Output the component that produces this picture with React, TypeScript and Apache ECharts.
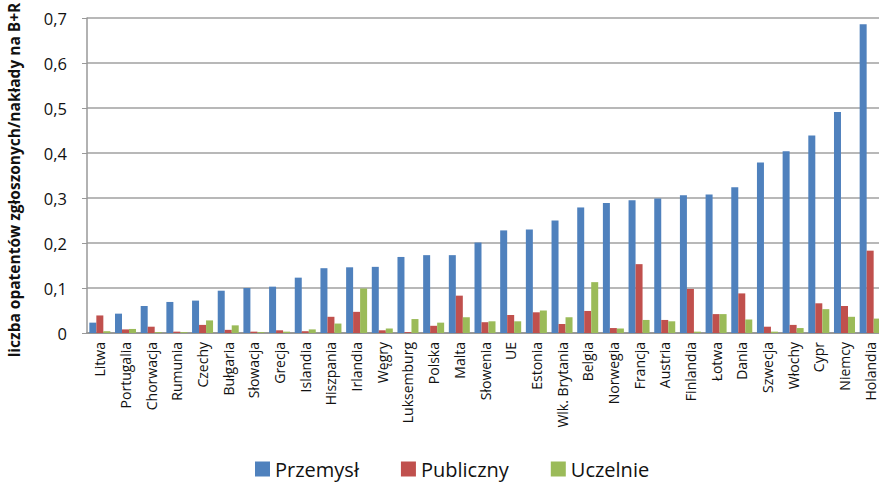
import React, { useEffect, useRef } from "react";
import * as echarts from "echarts";

const categories = [
  "Litwa", "Portugalia", "Chorwacja", "Rumunia", "Czechy", "Bułgaria", "Słowacja", "Grecja",
  "Islandia", "Hiszpania", "Irlandia", "Węgry", "Luksemburg", "Polska", "Malta", "Słowenia",
  "UE", "Estonia", "Wlk. Brytania", "Belgia", "Norwegia", "Francja", "Austria", "Finlandia",
  "Łotwa", "Dania", "Szwecja", "Włochy", "Cypr", "Niemcy", "Holandia",
];

const przemysl = [
  0.023, 0.043, 0.06, 0.069, 0.072, 0.094, 0.1, 0.103, 0.123, 0.144, 0.146, 0.147, 0.169, 0.173,
  0.173, 0.201, 0.228, 0.23, 0.25, 0.279, 0.289, 0.295, 0.299, 0.306, 0.308, 0.324, 0.379, 0.404,
  0.439, 0.491, 0.686,
];

const publiczny = [
  0.039, 0.008, 0.014, 0.003, 0.018, 0.007, 0.003, 0.006, 0.004, 0.036, 0.047, 0.006, 0.002, 0.016,
  0.083, 0.024, 0.04, 0.046, 0.02, 0.049, 0.011, 0.153, 0.029, 0.098, 0.042, 0.088, 0.014, 0.018,
  0.066, 0.06, 0.183,
];

const uczelnie = [
  0.004, 0.009, 0.002, 0.002, 0.028, 0.017, 0.002, 0.003, 0.008, 0.021, 0.099, 0.01, 0.031, 0.023,
  0.035, 0.026, 0.026, 0.05, 0.035, 0.113, 0.01, 0.029, 0.026, 0.003, 0.042, 0.03, 0.003, 0.011,
  0.053, 0.036, 0.032,
];

const seriesNames = ["Przemysł", "Publiczny", "Uczelnie"];
const colors = ["#4F81BD", "#C0504D", "#9BBB59"];
const yAxisTitle = "liczba opatentów zgłoszonych/nakłady na B+R";

export default function App() {
  const ref = useRef<HTMLDivElement>(null);
  useEffect(() => {
    if (!ref.current) return;
    const chart = echarts.init(ref.current, null, { renderer: "svg" });
    const font = "'Open Sans', 'DejaVu Sans', sans-serif";
    const mk = (name: string, data: number[], color: string) => ({
      name,
      type: "bar",
      data,
      barWidth: 7,
      barGap: "0%",
      itemStyle: { color },
    });
    chart.setOption({
      animation: false,
      color: colors,
      textStyle: { fontFamily: font },
      grid: {
        left: 87,
        top: 18,
        width: 796,
        height: 315,
        containLabel: false,
        outerBoundsMode: "none",
      },
      graphic: [
        {
          type: "text",
          x: 14,
          y: 180,
          rotation: Math.PI / 2,
          style: {
            text: yAxisTitle,
            font: `bold 15.5px ${font}`,
            fill: "#111",
            align: "center",
            verticalAlign: "middle",
          },
        },
      ],
      legend: {
        bottom: 2,
        left: 250,
        itemWidth: 15,
        itemHeight: 15,
        itemGap: 42,
        icon: "rect",
        textStyle: { fontSize: 20, color: "#111", fontFamily: font },
        data: seriesNames,
      },
      xAxis: {
        type: "category",
        data: categories,
        axisLine: { lineStyle: { color: "#999", width: 2 } },
        axisTick: { show: false },
        axisLabel: {
          rotate: 90,
          interval: 0,
          fontSize: 14,
          color: "#111",
          margin: 9,
          fontFamily: font,
        },
      },
      yAxis: {
        type: "value",
        min: 0,
        max: 0.7,
        interval: 0.1,
        axisLine: { show: true, lineStyle: { color: "#999", width: 1.5 } },
        axisTick: { show: true, length: 5, lineStyle: { color: "#999" } },
        axisLabel: {
          fontSize: 16.5,
          color: "#111",
          margin: 20,
          fontFamily: font,
          formatter: (v: number) => (v === 0 ? "0" : v.toFixed(1).replace(".", ",")),
        },
        splitLine: { lineStyle: { color: "#a0a0a0", width: 1.5 } },
      },
      series: [
        mk(seriesNames[0], przemysl, colors[0]),
        mk(seriesNames[1], publiczny, colors[1]),
        mk(seriesNames[2], uczelnie, colors[2]),
      ],
    });
    return () => chart.dispose();
  }, []);
  return <div ref={ref} style={{ width: 879, height: 486, position: "absolute", left: 0, top: 0 }} />;
}
